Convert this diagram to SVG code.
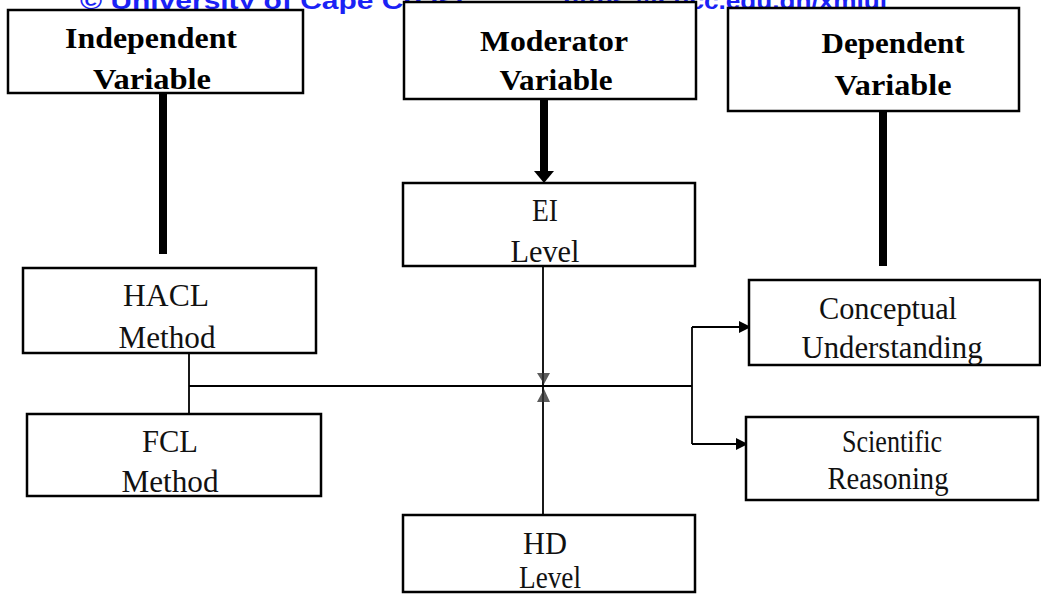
<svg xmlns="http://www.w3.org/2000/svg" width="1041" height="602" viewBox="0 0 1041 602">
<style>
.box{fill:#fff;stroke:#000;stroke-width:2.5}
.hd{font-family:"Liberation Serif","Times New Roman",serif;font-weight:bold;font-size:30px;fill:#000;text-anchor:middle}
.tx{font-family:"Liberation Serif","Times New Roman",serif;font-size:32px;fill:#111;text-anchor:middle}
.thin{fill:none;stroke:#000;stroke-width:1.8}
.thick{fill:none;stroke:#000;stroke-width:8}
.wm{font-family:"Liberation Sans",Arial,sans-serif;font-weight:bold;font-size:24px;fill:#1a22f5}
</style>
<defs>
<marker id="ah" viewBox="0 0 10 10" refX="10" refY="5" markerWidth="14" markerHeight="12" markerUnits="userSpaceOnUse" orient="auto">
<path d="M0,0 L10,5 L0,10 Z" fill="#000"/>
</marker>
</defs>
<rect width="1041" height="602" fill="#fff"/>

<g id="watermark">
<text class="wm" x="80" y="9" textLength="385" lengthAdjust="spacingAndGlyphs">© University of Cape Coast</text>
<text class="wm" x="563" y="9" textLength="324" lengthAdjust="spacingAndGlyphs">https://ir.ucc.edu.gh/xmlui</text>
</g>

<g id="connectors">
<line class="thick" x1="163" y1="93" x2="163" y2="254"/>
<line class="thick" x1="544" y1="99" x2="544" y2="172"/>
<path d="M534,171 L554,171 L544,183 Z" fill="#000"/>
<line class="thick" x1="883" y1="111" x2="883" y2="266"/>
<line class="thin" x1="543" y1="266" x2="543" y2="515"/>
<line class="thin" x1="189" y1="353" x2="189" y2="414"/>
<line class="thin" x1="189" y1="386" x2="692" y2="386"/>
<line class="thin" x1="692" y1="327" x2="692" y2="444"/>
<line class="thin" x1="692" y1="327" x2="751" y2="327" marker-end="url(#ah)"/>
<line class="thin" x1="692" y1="444" x2="748" y2="444" marker-end="url(#ah)"/>
<path d="M537,373 L550,373 L544,384 Z M537,402 L550,402 L544,389 Z" fill="#333" opacity="0.8"/>
</g>

<g id="independent">
<rect class="box" x="8" y="10" width="295" height="83"/>
<text class="hd" x="151" y="48" textLength="172" lengthAdjust="spacingAndGlyphs">Independent</text>
<text class="hd" x="152" y="89" textLength="118" lengthAdjust="spacingAndGlyphs">Variable</text>
</g>

<g id="moderator">
<rect class="box" x="404" y="2" width="292" height="97"/>
<text class="hd" x="554" y="51" textLength="148" lengthAdjust="spacingAndGlyphs">Moderator</text>
<text class="hd" x="556" y="90" textLength="113" lengthAdjust="spacingAndGlyphs">Variable</text>
</g>

<g id="dependent">
<rect class="box" x="728" y="8" width="291" height="103"/>
<text class="hd" x="893" y="53" textLength="143" lengthAdjust="spacingAndGlyphs">Dependent</text>
<text class="hd" x="893" y="95" textLength="117" lengthAdjust="spacingAndGlyphs">Variable</text>
</g>

<g id="ei">
<rect class="box" x="403" y="183" width="292" height="83"/>
<text class="tx" x="545" y="221" textLength="26" lengthAdjust="spacingAndGlyphs">EI</text>
<text class="tx" x="545" y="262" textLength="69" lengthAdjust="spacingAndGlyphs">Level</text>
</g>

<g id="hacl">
<rect class="box" x="23" y="268" width="293" height="85"/>
<text class="tx" x="166" y="306" textLength="86" lengthAdjust="spacingAndGlyphs">HACL</text>
<text class="tx" x="167" y="348" textLength="97" lengthAdjust="spacingAndGlyphs">Method</text>
</g>

<g id="fcl">
<rect class="box" x="27" y="414" width="294" height="82"/>
<text class="tx" x="170" y="452" textLength="56" lengthAdjust="spacingAndGlyphs">FCL</text>
<text class="tx" x="170" y="492" textLength="97" lengthAdjust="spacingAndGlyphs">Method</text>
</g>

<g id="conceptual">
<rect class="box" x="749" y="280" width="291" height="85"/>
<text class="tx" x="888" y="319" textLength="138" lengthAdjust="spacingAndGlyphs">Conceptual</text>
<text class="tx" x="892" y="358" textLength="181" lengthAdjust="spacingAndGlyphs">Understanding</text>
</g>

<g id="scientific">
<rect class="box" x="746" y="417" width="292" height="83"/>
<text class="tx" x="892" y="452" textLength="100" lengthAdjust="spacingAndGlyphs">Scientific</text>
<text class="tx" x="888" y="489" textLength="121" lengthAdjust="spacingAndGlyphs">Reasoning</text>
</g>

<g id="hd">
<rect class="box" x="403" y="515" width="292" height="77"/>
<text class="tx" x="545" y="554" textLength="44" lengthAdjust="spacingAndGlyphs">HD</text>
<text class="tx" x="550" y="588" textLength="62" lengthAdjust="spacingAndGlyphs">Level</text>
</g>
</svg>
